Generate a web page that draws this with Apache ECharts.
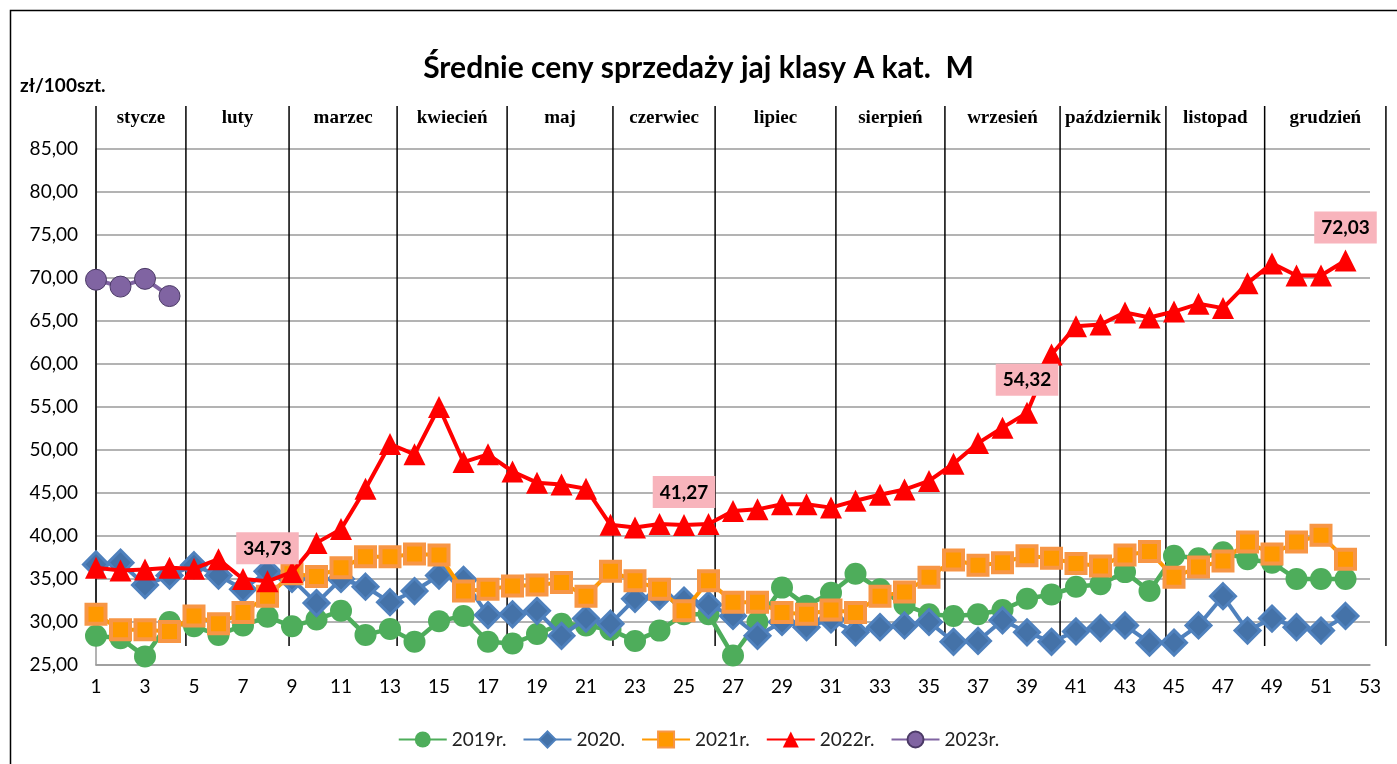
<!DOCTYPE html>
<html>
<head>
<meta charset="utf-8">
<script src="https://cdn.jsdelivr.net/npm/echarts@6/dist/echarts.min.js"></script>
<style>
html,body{margin:0;padding:0;background:#fff}
#main{width:1397px;height:764px}
</style>
</head>
<body>
<div id="main"></div>
<script>
// tygodnie 1..53
var weeks = []
for (var i = 1; i <= 53; i++) weeks.push(String(i))

var y2019 = [28.4, 28.1, 26.0, 30.0, 29.5, 28.5, 29.6, 30.6, 29.5, 30.3,
    31.3, 28.5, 29.2, 27.7, 30.1, 30.7, 27.7, 27.5, 28.6, 29.8,
    29.6, 29.1, 27.8, 29.0, 30.9, 30.9, 26.1, 30.0, 34.0, 31.9,
    33.4, 35.6, 33.8, 32.0, 30.9, 30.7, 30.9, 31.4, 32.7, 33.2,
    34.1, 34.4, 35.8, 33.6, 37.7, 37.4, 38.1, 37.3, 36.9, 35.0,
    35.0, 35.0]
var y2020 = [36.7, 36.9, 34.3, 35.4, 36.6, 35.4, 33.8, 35.9, 35.0, 32.2,
    35.0, 34.1, 32.3, 33.6, 35.4, 34.9, 30.8, 30.9, 31.3, 28.4,
    30.4, 29.8, 32.7, 33.0, 32.5, 32.0, 30.7, 28.4, 30.0, 29.4,
    30.3, 28.8, 29.4, 29.6, 30.0, 27.7, 27.8, 30.2, 28.8, 27.7,
    28.9, 29.3, 29.6, 27.6, 27.6, 29.6, 33.0, 29.0, 30.4, 29.4,
    29.0, 30.7]
var y2021 = [30.9, 29.1, 29.1, 28.9, 30.7, 29.8, 31.1, 33.0, 35.6, 35.3,
    36.3, 37.6, 37.6, 37.9, 37.8, 33.6, 33.8, 34.2, 34.3, 34.6,
    33.0, 35.9, 34.8, 33.8, 31.3, 34.8, 32.3, 32.3, 31.1, 30.9,
    31.4, 31.1, 33.0, 33.5, 35.2, 37.2, 36.6, 36.9, 37.7, 37.4,
    36.8, 36.5, 37.8, 38.2, 35.2, 36.4, 37.1, 39.3, 37.9, 39.3,
    40.1, 37.3]
var y2022 = [36.3, 36.0, 36.1, 36.3, 36.2, 37.3, 35.0, 34.73, 35.8, 39.2,
    40.8, 45.5, 50.7, 49.5, 55.0, 48.6, 49.5, 47.5, 46.2, 46.0,
    45.5, 41.3, 41.0, 41.4, 41.27, 41.4, 42.9, 43.1, 43.7, 43.7,
    43.3, 44.1, 44.8, 45.4, 46.4, 48.4, 50.8, 52.6, 54.32, 61.1,
    64.4, 64.6, 66.0, 65.4, 66.1, 67.0, 66.5, 69.4, 71.7, 70.3,
    70.3, 72.03]
var y2023 = [69.8, 69.0, 69.9, 67.9]

// tygodnie z etykieta wartosci (2022)
var labelWeeks = [8, 25, 39, 52]

var months = ['stycze', 'luty', 'marzec', 'kwiecień', 'maj', 'czerwiec',
    'lipiec', 'sierpień', 'wrzesień', 'październik', 'listopad', 'grudzień']
// granice miesiecy (indeks tygodnia, 0 = tydz. 1)
var monthBounds = [0, 3.67, 7.88, 12.29, 16.78, 21.1, 25.27, 30.2, 34.65, 39.35, 43.67, 47.7, 52.65]

var FONT = 'Lato, "Open Sans", sans-serif'

function fmt(v) {
    return Number(v).toFixed(2).replace('.', ',')
}

var data2022 = y2022.map(function (v, i) {
    if (labelWeeks.indexOf(i + 1) >= 0) {
        return { value: v, label: { show: true } }
    }
    return v
})

var monthMids = []
for (var m = 0; m < months.length; m++) {
    monthMids.push([(monthBounds[m] + monthBounds[m + 1]) / 2, 88.6, months[m]])
}

var chart = echarts.init(document.getElementById('main'))
var option = {
    animation: false,
    backgroundColor: '#fff',
    title: [{
        text: 'Średnie ceny sprzedaży jaj klasy A kat.  M',
        left: 'center',
        top: 48,
        textStyle: { fontFamily: FONT, fontWeight: 'bold', fontSize: 30, color: '#000' }
    }, {
        text: 'zł/100szt.',
        left: 15,
        top: 71,
        textStyle: { fontFamily: FONT, fontWeight: 'bold', fontSize: 19, color: '#000' }
    }],
    graphic: [{
        type: 'rect',
        shape: { x: 10.5, y: 10.5, width: 1420, height: 800 },
        style: { fill: 'none', stroke: '#000', lineWidth: 1.5 },
        silent: true
    }],
    legend: {
        data: ['2019r.', '2020.', '2021r.', '2022r.', '2023r.'],
        bottom: 10,
        left: 'center',
        itemWidth: 48,
        itemHeight: 20,
        itemGap: 16,
        textStyle: { fontFamily: FONT, fontSize: 19, color: '#222' }
    },
    grid: {
        left: 96,
        right: 27,
        top: 149,
        bottom: 99
    },
    xAxis: [{
        type: 'category',
        data: weeks,
        boundaryGap: false,
        axisLine: { lineStyle: { color: '#9a9a9a', width: 1.5 } },
        axisTick: { show: false },
        axisLabel: { interval: 1, margin: 12, fontFamily: FONT, fontSize: 19, color: '#000' },
        splitLine: { show: false }
    }, {
        type: 'value',
        min: 0,
        max: 52,
        show: false
    }],
    yAxis: {
        type: 'value',
        min: 25,
        max: 85,
        interval: 5,
        axisLine: { show: true, lineStyle: { color: '#9a9a9a', width: 1.5 } },
        axisTick: { show: false },
        axisLabel: {
            margin: 18, fontFamily: FONT, fontSize: 19, color: '#000',
            formatter: function (v) { return fmt(v) }
        },
        splitLine: { lineStyle: { color: '#9a9a9a', width: 1.5 } }
    },
    series: [
        {
            name: 'months',
            type: 'custom',
            xAxisIndex: 1,
            silent: true,
            z: 1,
            data: monthBounds.map(function (b) { return [b, 27.2] }),
            renderItem: function (params, api) {
                var p1 = api.coord([api.value(0), api.value(1)])
                var p2 = api.coord([api.value(0), 90])
                return {
                    type: 'line',
                    shape: { x1: p1[0], y1: p1[1], x2: p2[0], y2: p2[1] },
                    style: { stroke: '#000', lineWidth: 1.5 }
                }
            }
        },
        {
            name: 'monthNames',
            type: 'custom',
            xAxisIndex: 1,
            silent: true,
            z: 1,
            data: monthMids,
            renderItem: function (params, api) {
                var p = api.coord([api.value(0), api.value(1)])
                return {
                    type: 'text',
                    x: p[0],
                    y: p[1],
                    style: {
                        text: monthMids[params.dataIndex][2],
                        align: 'center', verticalAlign: 'middle',
                        textAlign: 'center', textVerticalAlign: 'middle',
                        font: 'bold 19px "Liberation Serif", serif',
                        fill: '#000'
                    }
                }
            }
        },
        {
            name: '2019r.',
            type: 'line',
            data: y2019,
            showAllSymbol: true,
            symbol: 'circle',
            symbolSize: 22,
            lineStyle: { color: '#4EAD5B', width: 4.5 },
            itemStyle: { color: '#4EAD5B' },
            z: 2
        },
        {
            name: '2020.',
            type: 'line',
            data: y2020,
            showAllSymbol: true,
            symbol: 'diamond',
            symbolSize: 25,
            lineStyle: { color: '#4F81BD', width: 4 },
            itemStyle: { color: '#4472A8', borderColor: '#4F81BD', borderWidth: 3 },
            z: 3
        },
        {
            name: '2021r.',
            type: 'line',
            data: y2021,
            showAllSymbol: true,
            symbol: 'rect',
            symbolSize: 19,
            lineStyle: { color: '#FF9900', width: 4 },
            itemStyle: { color: '#FF9900', borderColor: '#F79646', borderWidth: 4 },
            z: 4
        },
        {
            name: '2022r.',
            type: 'line',
            data: data2022,
            showAllSymbol: true,
            symbol: 'triangle',
            symbolSize: 22,
            lineStyle: { color: '#FF0000', width: 4 },
            itemStyle: { color: '#FF0000' },
            label: {
                show: false,
                position: 'top',
                distance: 6,
                backgroundColor: '#F8B4BC',
                padding: [7, 7, 6, 7],
                fontFamily: FONT,
                fontWeight: 'bold',
                fontSize: 19,
                color: '#000',
                formatter: function (p) { return fmt(p.value) }
            },
            z: 5
        },
        {
            name: '2023r.',
            type: 'line',
            data: y2023,
            showAllSymbol: true,
            symbol: 'circle',
            symbolSize: 21,
            lineStyle: { color: '#8064A2', width: 4 },
            itemStyle: { color: '#8064A2', borderColor: '#4B3A66', borderWidth: 1 },
            z: 6
        }
    ]
}
chart.setOption(option)
</script>
</body>
</html>
